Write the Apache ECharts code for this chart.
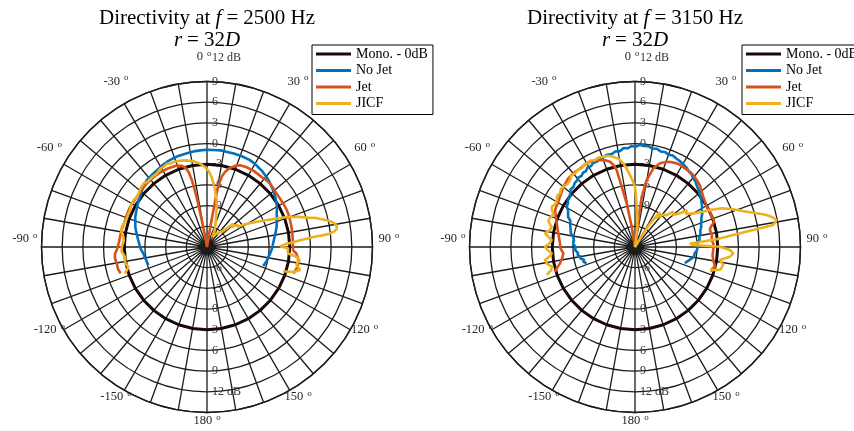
<!DOCTYPE html>
<html>
<head>
<meta charset="utf-8">
<script src="https://cdn.jsdelivr.net/npm/echarts@6/dist/echarts.min.js"></script>
<style>
  html, body { margin: 0; padding: 0; background: #ffffff; }
  #chart { width: 854px; height: 431px; }
</style>
</head>
<body>
<div id="chart"></div>
<script>
// ---- Series names / titles ----
const seriesNames = ['Mono. - 0dB', 'No Jet', 'Jet', 'JICF'];
const frequencies = [2500, 3150];

// ---- Angle labels (degrees) ----
const angleLabelValues = [0, 30, 60, 90, 120, 150, 180, -150, -120, -90, -60, -30];

// ---- Radial tick labels (dB) ----
const radialTopLabels = ['12 dB', '9', '6', '3', '0', '-3', '-6', '-9'];
const radialTopValues = [12, 9, 6, 3, 0, -3, -6, -9];
const radialBottomLabels = ['12 dB', '9', '6', '3', '0', '-3', '-6'];
const radialBottomValues = [12, 9, 6, 3, 0, -3, -6];

// ---- Monopole reference, 0 dB all round ----
const angMono = [-180, -170, -160, -150, -140, -130, -120, -110, -100, -90, -80, -70, -60, -50, -40, -30, -20, -10, 0,
  10, 20, 30, 40, 50, 60, 70, 80, 90, 100, 110, 120, 130, 140, 150, 160, 170, 180];
const dbMono = [0, 0, 0, 0, 0, 0, 0, 0, 0, 0, 0, 0, 0, 0, 0, 0, 0, 0, 0,
  0, 0, 0, 0, 0, 0, 0, 0, 0, 0, 0, 0, 0, 0, 0, 0, 0, 0];

// ---- f = 2500 Hz ----
const ang2500NoJet = [-107, -103, -99, -95.6, -92, -88, -84, -79, -75, -71, -67, -63, -60, -56, -53, -49, -45, -42, -38, -33,
  -29, -25, -21, -17, -12, -8, -4, 0, 4, 8, 12, 16, 21, 26, 29, 32, 36, 40, 43, 46,
  50, 54, 58, 61, 64, 67, 71, 74, 77, 81, 84, 88, 92, 96, 100, 104, 108.7];
const db2500NoJet = [-3.1, -3.0, -2.85, -2.7, -2.4, -2.2, -1.95, -1.6, -1.25, -1.0, -0.7, -0.5, -0.3, 0.0, 0.15, 0.5, 0.8, 1.05, 1.15, 1.3,
  1.5, 1.65, 1.75, 1.85, 1.9, 2.0, 2.05, 2.1, 2.1, 2.15, 2.1, 2.1, 2.1, 2.05, 1.95, 1.8, 1.6, 1.35, 1.15, 0.9,
  0.6, 0.25, -0.1, -0.4, -0.75, -1.0, -1.3, -1.5, -1.75, -2.05, -2.25, -2.45, -2.6, -2.8, -3.0, -3.15, -3.4];

const ang2500Jet = [-107, -104, -100.4, -97, -94.1, -91, -87, -83.4, -78, -72, -67, -62.5, -58, -54.6, -49, -43.6, -38, -32, -26, -20.3,
  -17.5, -15.4, -13.8, -12.6, -11.8, -11.2, -10.5, -9.5, 7.5, 9.3, 9.9, 10.1, 10.6, 12, 13.5, 16, 19, 22, 26, 31,
  35, 38, 41, 44.8, 48, 52.5, 56, 60.4, 64, 67.7, 72, 76.7, 80, 84, 88, 92.3, 94.2, 97, 100.3, 103, 107.1];
const db2500Jet = [1.1, 1.3, 1.3, 1.45, 1.36, 1.0, 0.8, 0.7, 0.6, 0.5, 0.55, 0.58, 0.5, 0.5, 0.6, 0.68, 0.75, 0.78, 0.72, 0.6,
  0.35, 0.0, -0.8, -2.2, -4.5, -7.5, -10, -12, -12, -9, -6.6, -4.5, -2.7, -1.5, -0.8, -0.1, 0.45, 0.77, 0.9, 0.96,
  0.9, 0.87, 0.95, 0.96, 0.85, 0.72, 0.7, 0.72, 0.75, 0.74, 0.65, 0.6, 0.55, 0.5, 0.45, 0.5, 1.0, 1.3, 1.45, 1.4, 1.1];

const ang2500Jicf = [-108, -104.3, -101, -97, -93, -90, -86, -83.2, -80, -76.8, -73, -70.5, -67, -64.5, -61, -57.6, -55, -52.1, -48, -45.1,
  -42, -38, -34.4, -31, -28, -25.8, -23.5, -21.6, -17, -13.2, -9, -4.8, -2, 1, 3.8, 6, 8, 11, 13.6, 18,
  22, 25, 28, 31, 35, 40, 44, 47, 48.5, 51, 54, 56.6, 59, 61, 62.5, 64, 66, 67.8, 69.4, 71.5,
  73.6, 75, 76.7, 78, 79.6, 81, 82, 83, 83.8, 84.3, 84.6, 85.3, 85.9, 86.8, 87.6, 89.5, 91.1, 93, 94.6, 96.4,
  98.1, 100, 101.5, 103, 104.1, 106.2, 107.7];
const db2500Jicf = [0.5, -0.23, 0.1, -0.03, 0.4, 0.36, 0.1, 0.2, 0.6, 0.7, 0.45, 0.35, 0.4, 0.36, 0.6, 0.64, 0.5, 0.6, 0.9, 1.0,
  0.8, 0.9, 0.9, 1.2, 1.25, 1.4, 1.2, 1.25, 1.1, 0.9, 0.6, 0.13, -0.3, -0.9, -1.83, -2.8, -3.7, -4.8, -6.0, -7.8,
  -8.8, -9.5, -10.3, -10.0, -9.6, -9.2, -8.9, -8.1, -6.9, -7.4, -6.5, -6.7, -5.6, -5.4, -4.2, -3.5, -2.4, -1.1, 0.35, 1.8,
  3.07, 4.3, 5.3, 6.2, 6.86, 7.05, 7.0, 6.6, 5.9, 4.6, 3.5, 2.5, 1.5, 0.5, -0.43, -1.4, -0.2, -0.3, -0.17, 1.1,
  1.6, 1.3, 1.26, 1.7, 1.9, 1.0, -0.4];

// ---- f = 3150 Hz ----
const ang3150NoJet = [-108.6, -106, -104, -102, -100, -98, -96, -93, -90, -87, -84, -80.5, -78, -76, -73, -70, -68, -66, -63, -61,
  -59.5, -57, -55, -52.5, -50.4, -48, -46, -43.3, -41, -39, -37, -35, -33, -31, -28.5, -26.5, -24, -21.5, -19.3, -17,
  -14, -11.5, -9, -6.5, -4, -2, 0.5, 2.8, 5, 7.5, 10, 12.5, 15, 17.5, 20, 22.5, 25.2, 27.5, 30, 33.3,
  35.5, 37.5, 40.3, 42.5, 45, 48, 50.5, 53, 56.8, 59, 61, 63.5, 66, 68, 70.5, 73, 76, 78.5, 81, 83.5,
  86, 88.5, 90.3, 93, 96, 99.4, 102, 104, 106, 108];
const db3150NoJet = [-4.6, -4.2, -4.4, -3.9, -4.0, -3.6, -3.7, -3.3, -3.4, -3.0, -3.1, -2.9, -2.5, -2.7, -2.2, -2.0, -1.9, -1.4, -1.1, -0.9,
  -0.5, -0.4, -0.15, -0.05, 0.2, 0.55, 0.45, 0.75, 0.8, 1.0, 0.9, 1.15, 1.1, 1.4, 1.35, 1.6, 1.55, 1.85, 1.8, 2.0,
  1.9, 2.15, 2.05, 2.45, 2.35, 2.65, 2.55, 2.85, 2.7, 2.75, 2.5, 2.6, 2.35, 2.45, 2.25, 2.35, 2.15, 2.05, 1.9, 1.7,
  1.45, 1.4, 1.05, 0.95, 0.65, 0.4, 0.1, 0.0, -0.45, -0.65, -0.95, -1.1, -1.45, -1.6, -1.85, -1.95, -2.25, -2.3, -2.55, -2.6,
  -2.95, -2.9, -3.1, -3.0, -3.3, -3.35, -3.7, -3.8, -4.2, -4.4];

const ang3150Jet = [-107.2, -105, -102.3, -99, -95, -91, -87.2, -83, -79.9, -76, -73.2, -69, -65.2, -60, -56.2, -53, -50, -47, -44.2, -40,
  -35, -31, -27.8, -25, -21.9, -19, -16.3, -14.5, -13.4, -12.4, -10.8, -9.2, -7, 5, 7, 7.6, 9.9, 13.1, 16.6, 20.4,
  23, 26.5, 29, 32.4, 36, 39, 43, 46.3, 50, 53.6, 57, 60.7, 64, 68.4, 71, 73.2, 75, 77.2, 81, 84.8,
  88, 92.2, 96, 99.4, 101.5, 103.8, 106, 108];
const db3150Jet = [0.13, -0.3, -0.87, -1.3, -1.57, -1.2, -1.1, -0.9, -0.7, -0.4, -0.14, 0.3, 0.77, 0.9, 1.09, 1.3, 1.58, 1.7, 1.88, 1.93,
  1.9, 2.0, 1.97, 1.8, 1.6, 1.3, 0.88, 0.2, -0.5, -3.06, -5.55, -9.0, -12, -12, -8.06, -4.65, -2.14, -0.29, 0.66, 1.19,
  1.4, 1.55, 1.6, 1.5, 1.5, 1.43, 1.2, 1.0, 0.6, 0.3, 0.1, -0.08, 0.0, -0.04, 0.1, -0.14, -0.6, -0.86, -0.7, -0.84,
  -0.6, -0.64, -0.7, -0.5, -0.3, -0.06, -0.4, -0.26];

const ang3150Jicf = [-107.6, -105.5, -103.3, -100.7, -98.2, -96, -94.3, -92, -89.8, -87.5, -85.2, -83, -81.3, -78.8, -76.3, -74.5, -72.7, -70, -67.6, -66,
  -64.2, -61.5, -59, -56.5, -54.4, -52, -50, -47, -44.1, -41.5, -39.2, -36.5, -34.1, -32, -30, -27.5, -24.7, -22, -19.3, -16.5,
  -13.5, -10.5, -8, -6, -4, -2, 0, 1.2, 2.4, 4.5, 6.5, 8.5, 10, 28, 31.8, 32.7, 35.5, 36.5, 40, 44.7,
  47.3, 50, 53.2, 54.4, 57, 60, 62, 63.7, 66, 69, 72.5, 74.5, 76.3, 77.8, 79.2, 81, 81.8, 83, 84.6, 85.6,
  86.5, 88, 89.8, 91.8, 93.7, 95.8, 98.7, 101.5, 105.1, 107];
const db3150Jicf = [1.42, 0.6, 0.4, 1.0, 1.18, 0.4, 0.1, 0.7, 1.05, 0.4, 0.12, 0.7, 1.2, 0.6, 0.42, 0.9, 1.16, 0.9, 0.8, 1.2,
  1.4, 1.1, 1.23, 1.5, 1.36, 1.65, 1.58, 1.4, 1.52, 1.9, 1.77, 1.95, 1.77, 2.05, 2.0, 2.1, 1.88, 2.0, 1.87, 1.8,
  1.46, 1.0, 0.25, -0.6, -1.54, -2.4, -3.26, -4.7, -6.16, -7.6, -9.04, -11, -12, -12, -9.7, -8.0, -5.8, -6.8, -5.9, -5.5,
  -4.45, -4.8, -3.85, -2.8, -3.2, -2.25, -1.3, 0.12, 1.8, 3.26, 4.97, 6.3, 7.64, 8.4, 8.9, 8.3, 5.3, 2.35, -0.1, -2.55,
  -4.0, -3.55, 0.32, 1.77, 2.3, 1.84, 0.46, 1.06, 0.76, -0.64];

// ---- Styling ----
const colors = ['#1a0808', '#0072BD', '#D95319', '#EDB120'];
const gridColor = '#1c1c1c';
const serif = '"Liberation Serif", "DejaVu Serif", serif';
const centers = [[207, 247], [635, 247]];
const outerRadius = 165.5;

function pairs(angles, values) {
  return angles.map((a, i) => [values[i], a]);
}

const plotData = [
  [pairs(angMono, dbMono), pairs(ang2500NoJet, db2500NoJet), pairs(ang2500Jet, db2500Jet), pairs(ang2500Jicf, db2500Jicf)],
  [pairs(angMono, dbMono), pairs(ang3150NoJet, db3150NoJet), pairs(ang3150Jet, db3150Jet), pairs(ang3150Jicf, db3150Jicf)]
];

const chart = echarts.init(document.getElementById('chart'), null, { renderer: 'canvas' });

const polar = centers.map(c => ({ center: c, radius: outerRadius }));

const angleAxis = centers.map((c, i) => ({
  polarIndex: i,
  type: 'value',
  min: -180,
  max: 180,
  interval: 10,
  startAngle: 270,
  clockwise: true,
  axisLine: { show: true, lineStyle: { color: gridColor, width: 1.4 } },
  axisTick: { show: false },
  axisLabel: { show: false },
  splitLine: { show: true, lineStyle: { color: gridColor, width: 1.3 } }
}));

const radiusAxis = centers.map((c, i) => ({
  polarIndex: i,
  type: 'value',
  min: -12,
  max: 12,
  interval: 3,
  axisLine: { show: false },
  axisTick: { show: false },
  axisLabel: { show: false },
  splitLine: { show: true, lineStyle: { color: gridColor, width: 1.3 } }
}));

const series = [];
plotData.forEach((set, p) => {
  set.forEach((data, k) => {
    series.push({
      name: seriesNames[k],
      type: 'line',
      coordinateSystem: 'polar',
      polarIndex: p,
      data: data,
      showSymbol: false,
      symbol: 'none',
      smooth: false,
      silent: true,
      animation: false,
      lineStyle: { color: colors[k], width: k === 0 ? 3 : 2.6 },
      itemStyle: { color: colors[k] },
      z: 3 + k
    });
  });
});

const legendBase = {
  orient: 'vertical',
  top: 45,
  data: seriesNames,
  icon: 'rect',
  itemWidth: 35,
  itemHeight: 3,
  itemGap: 2.5,
  padding: [2, 5, 4, 4],
  borderColor: '#000',
  borderWidth: 1,
  borderRadius: 0,
  backgroundColor: '#ffffff',
  selectedMode: false,
  textStyle: { fontFamily: serif, fontSize: 14, color: '#000', lineHeight: 14 }
};

chart.setOption({
  animation: false,
  backgroundColor: '#ffffff',
  polar: polar,
  angleAxis: angleAxis,
  radiusAxis: radiusAxis,
  legend: [
    Object.assign({}, legendBase, { left: 312 }),
    Object.assign({}, legendBase, { left: 742 })
  ],
  series: series
});

// Titles, angle labels and radial dB labels, placed through the polar scales
const graphics = [];
const titleRich = {
  i: { fontFamily: serif, fontSize: 21, fontStyle: 'italic', fill: '#000' },
  r: { fontFamily: serif, fontSize: 21, fill: '#000' },
  e: { fontFamily: serif, fontSize: 21, fill: '#000', padding: [0, 5, 0, 5] }
};
const degRich = {
  n: { fontFamily: serif, fontSize: 12.5, fill: '#262626', lineHeight: 16 },
  d: { fontFamily: serif, fontSize: 9, fill: '#262626', lineHeight: 9, verticalAlign: 'top', padding: [0, 0, 0, 4] }
};
const angleLabelRadius = 14.4;   // dB value just outside the 12 dB ring
function labelShift(a) {
  // the 0 label sits a little left of the spoke so it clears the 12 dB label
  return a === 0 ? -3 : 0;
}
centers.forEach((c, p) => {
  graphics.push({
    type: 'text', silent: true,
    style: {
      text: '{r|Directivity at }{i|f}{e|=}{r|' + frequencies[p] + ' Hz}',
      x: c[0], y: 18, align: 'center', verticalAlign: 'middle',
      fontFamily: serif, fontSize: 21, fill: '#000', rich: titleRich
    }
  });
  graphics.push({
    type: 'text', silent: true,
    style: {
      text: '{i|r}{e|=}{r|32}{i|D}',
      x: c[0], y: 40, align: 'center', verticalAlign: 'middle',
      fontFamily: serif, fontSize: 21, fill: '#000', rich: titleRich
    }
  });
  const seriesIdx = p * 4;
  angleLabelValues.forEach(a => {
    const pt = chart.convertToPixel({ seriesIndex: seriesIdx }, [angleLabelRadius, a]);
    graphics.push({
      type: 'text', silent: true,
      style: {
        text: '{n|' + a + '}{d|o}', x: pt[0] + labelShift(a), y: pt[1] - 8,
        align: 'center', verticalAlign: 'middle', rich: degRich
      }
    });
  });
  const step = radiusAxis[p].interval;
  radialTopValues.forEach((v, i) => {
    const pt = chart.convertToPixel({ seriesIndex: seriesIdx }, [v + step, 0]);
    graphics.push({
      type: 'text', silent: true, z: 1,
      style: { text: radialTopLabels[i], x: pt[0] + 5, y: pt[1] - (v === 12 ? 3 : 0), align: 'left', verticalAlign: 'middle',
        fontFamily: serif, fontSize: 12, fill: '#333' }
    });
  });
  radialBottomValues.forEach((v, i) => {
    const pt = chart.convertToPixel({ seriesIndex: seriesIdx }, [v - step, 180]);
    graphics.push({
      type: 'text', silent: true, z: 1,
      style: { text: radialBottomLabels[i], x: pt[0] + 5, y: pt[1], align: 'left', verticalAlign: 'middle',
        fontFamily: serif, fontSize: 12, fill: '#333' }
    });
  });
});

chart.setOption({ graphic: graphics });
</script>
</body>
</html>
